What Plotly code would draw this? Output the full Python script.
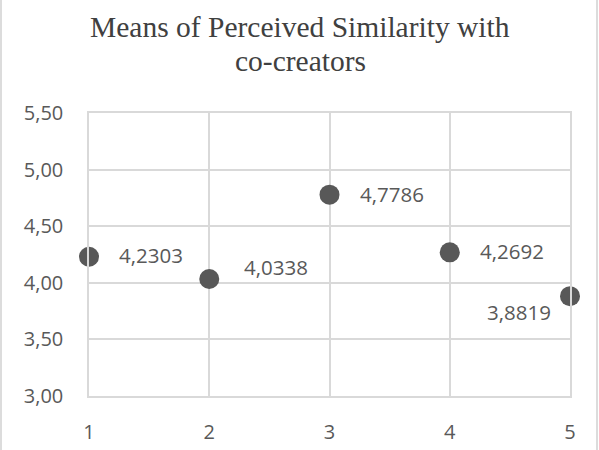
import plotly.graph_objects as go

x_vals = [1, 2, 3, 4, 5]
y_vals = [4.2303, 4.0338, 4.7786, 4.2692, 3.8819]
labels = ["4,2303", "4,0338", "4,7786", "4,2692", "3,8819"]
y_ticks = [3.0, 3.5, 4.0, 4.5, 5.0, 5.5]
y_tick_text = ["3,00", "3,50", "4,00", "4,50", "5,00", "5,50"]
x_ticks = [1, 2, 3, 4, 5]
title_lines = ["Means of Perceived Similarity with", "co-creators"]

# label placement (style): (xshift, yshift, xanchor)
label_offsets = [(28, 2, "left"), (33, 12, "left"), (28, 1, "left"), (28, 1, "left"), (-17, -16, "right")]

W, H = 599, 450
ml, mr, mt, mb = 89, 29, 113, 54
pw, ph = W - ml - mr, H - mt - mb


def py(pix):
    return (H - mb - pix) / ph


fig = go.Figure()
fig.add_trace(go.Scatter(
    x=x_vals, y=y_vals, mode="markers",
    marker=dict(size=20, color="#585858"),
    hoverinfo="skip", cliponaxis=False,
))

for xv, yv, lab, (dx, dy, xa) in zip(x_vals, y_vals, labels, label_offsets):
    fig.add_annotation(x=xv, y=yv, text=lab, showarrow=False,
                       xanchor=xa, yanchor="middle", xshift=dx, yshift=dy,
                       font=dict(family="Open Sans", size=20.5, color="#595959"))

# title, two lines with tight line spacing
for line, cy in zip(title_lines, [27, 61]):
    fig.add_annotation(xref="paper", yref="paper", x=(300 - ml) / pw, y=py(cy),
                       text=line, showarrow=False, xanchor="center", yanchor="middle",
                       font=dict(family="Liberation Serif", size=29.5, color="#404040"))

for px in [1, W - 2]:
    xp = (px - ml) / pw
    fig.add_shape(type="line", xref="paper", yref="paper",
                  x0=xp, x1=xp, y0=-mb / ph, y1=1 + mt / ph,
                  line=dict(color="#d0d0d0", width=1.5))

fig.update_layout(
    width=W, height=H,
    margin=dict(l=ml, r=mr, t=mt, b=mb),
    paper_bgcolor="white", plot_bgcolor="white",
    showlegend=False,
    xaxis=dict(range=[1, 5], tickvals=x_ticks, showgrid=True, gridcolor="#d9d9d9",
               gridwidth=1.5, zeroline=False, showline=True, linecolor="#d9d9d9", linewidth=1.5,
               mirror=True, ticks="", ticklabelstandoff=17, automargin=False,
               tickfont=dict(family="Open Sans", size=20, color="#595959")),
    yaxis=dict(range=[3, 5.5], tickvals=y_ticks, ticktext=y_tick_text, showgrid=True,
               gridcolor="#d9d9d9", gridwidth=1.5, zeroline=False, showline=True,
               linecolor="#d9d9d9", linewidth=1.5, mirror=True, ticks="", ticklabelstandoff=20,
               automargin=False,
               tickfont=dict(family="Open Sans", size=20, color="#595959")),
)

fig.write_html("out.html")
